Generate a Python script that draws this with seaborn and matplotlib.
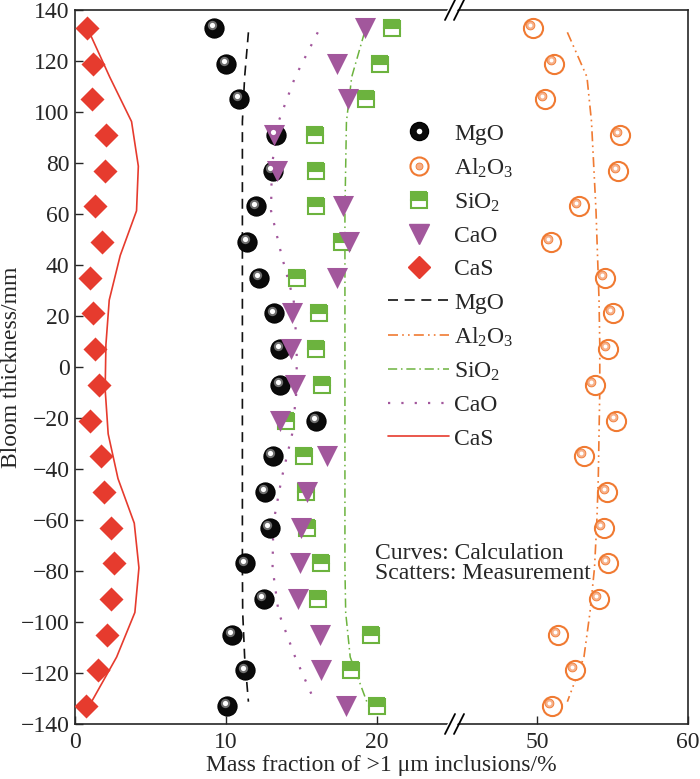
import numpy as np
import pandas as pd
import matplotlib
matplotlib.use("Agg")
import matplotlib.pyplot as plt
import seaborn as sns
from matplotlib.lines import Line2D
from matplotlib import transforms
from matplotlib.patches import Polygon

# ---------------- data ----------------
thickness = [133, 119, 105, 91, 77, 63, 49, 35, 21, 7,
             -7, -21, -35, -49, -63, -77, -91, -105, -119, -133]
mgo_meas = [9.2, 10.0, 10.9, 13.3, 13.1, 12.0, 11.4, 12.2, 13.2, 13.6,
            13.6, 16.0, 13.1, 12.6, 12.9, 11.3, 12.5, 10.4, 11.3, 10.1]
al2o3_meas = [49.7, 51.1, 50.5, 55.5, 55.35, 52.8, 50.9, 54.5, 55.0, 54.7,
              53.8, 55.25, 53.1, 54.6, 54.4, 54.7, 54.1, 51.4, 52.5, 51.0]
sio2_meas = [21.0, 20.2, 19.3, 15.9, 16.0, 16.0, 17.7, 14.7, 16.2, 16.0,
             16.4, 14.0, 15.2, 15.3, 15.4, 16.3, 16.1, 19.6, 18.3, 20.0]
cao_meas = [19.2, 17.4, 18.1, 13.2, 13.4, 17.75, 18.2, 17.35, 14.4, 14.3,
            14.6, 13.6, 16.7, 15.4, 15.0, 14.9, 14.8, 16.25, 16.3, 18.0]
cas_meas = [0.8, 1.2, 1.1, 2.05, 2.0, 1.3, 1.8, 1.0, 1.2, 1.3,
            1.6, 1.0, 1.7, 1.95, 2.4, 2.6, 2.4, 2.15, 1.5, 0.7]

curve_y = [131.25, 113.75, 96.25, 78.75, 61.25, 43.75, 26.25, 8.75,
           -8.75, -26.25, -43.75, -61.25, -78.75, -96.25, -113.75, -131.25]
mgo_calc = [11.5, 11.25, 11.1, 11.1, 11.1, 11.1, 11.1, 11.1,
            11.1, 11.1, 11.1, 11.1, 11.1, 11.12, 11.25, 11.5]
al2o3_calc = [52.0, 53.3, 53.6, 53.75, 53.9, 54.0, 54.1, 54.15,
              54.15, 54.1, 54.05, 53.95, 53.8, 53.5, 53.1, 52.0]
sio2_calc = [19.2, 18.35, 18.0, 17.95, 17.9, 17.9, 17.9, 17.9,
             17.9, 17.9, 17.9, 17.9, 17.9, 17.95, 18.25, 19.35]
cao_calc = [16.1, 14.6, 13.5, 13.05, 13.0, 13.7, 14.5, 14.7,
            14.7, 14.4, 13.7, 13.15, 13.1, 13.5, 14.6, 15.9]
cas_calc = [0.95, 2.3, 3.75, 4.2, 4.08, 3.0, 2.27, 2.05,
            2.0, 2.2, 2.85, 3.93, 4.24, 3.97, 2.76, 1.1]

x_ticks_left = [0, 10, 20]
x_ticks_right = [50, 60]
y_ticks = list(range(-140, 141, 20))

# ---------------- style ----------------
sns.set_style("ticks")
plt.rcParams["font.family"] = ["Liberation Serif", "DejaVu Serif"]
plt.rcParams["mathtext.fontset"] = "custom"
plt.rcParams["mathtext.rm"] = "Liberation Serif"
plt.rcParams["mathtext.it"] = "Liberation Serif:italic"
plt.rcParams["axes.linewidth"] = 1.2

C_MGO = "#111111"
C_AL = "#F07A32"
C_SI = "#6CB33E"
C_CAO = "#A2579C"
C_CAS = "#E63B2E"

FS = 17

fig = plt.figure(figsize=(7, 7.79), dpi=100)
W, H = 700.0, 779.0
x0, xb, x1 = 75.0, 458.0, 688.0
ytop, ybot = 10.0, 724.0
ax1 = fig.add_axes([x0 / W, 1 - ybot / H, (xb - x0) / W, (ybot - ytop) / H])
ax2 = fig.add_axes([xb / W, 1 - ybot / H, (x1 - xb) / W, (ybot - ytop) / H], sharey=ax1)

scale = 15.08
ax1.set_xlim(0, (xb - x0) / scale)
ax2.set_xlim(60 - (x1 - xb) / scale, 60)
ax1.set_ylim(-140, 140)

meas = pd.DataFrame({"y": thickness, "MgO": mgo_meas, "Al2O3": al2o3_meas,
                     "SiO2": sio2_meas, "CaO": cao_meas, "CaS": cas_meas})
calc = pd.DataFrame({"y": curve_y, "MgO": mgo_calc, "Al2O3": al2o3_calc,
                     "SiO2": sio2_calc, "CaO": cao_calc, "CaS": cas_calc})

# ---------------- curves ----------------
line_specs = {
    "MgO": dict(color=C_MGO, dashes=(6, 4), lw=1.2),
    "SiO2": dict(color=C_SI, dashes=(6, 2.5, 1, 2.5), lw=1.1),
    "CaO": dict(color=C_CAO, dashes=(1, 5), lw=1.6),
    "CaS": dict(color=C_CAS, dashes=None, lw=1.2),
}
for name, sp in line_specs.items():
    sns.lineplot(data=calc, x=name, y="y", sort=False, estimator=None, ax=ax1,
                 color=sp["color"], lw=sp["lw"])
    if sp["dashes"] is not None:
        ax1.lines[-1].set_dashes(sp["dashes"])
sns.lineplot(data=calc, x="Al2O3", y="y", sort=False, estimator=None, ax=ax2,
             color=C_AL, lw=1.2)
ax2.lines[-1].set_dashes((6, 2.5, 1, 2.5, 1, 2.5))

# ---------------- scatters ----------------
sns.scatterplot(data=meas, x="CaS", y="y", ax=ax1, marker="D", s=150,
                color=C_CAS, edgecolor=C_CAS, linewidth=0, zorder=5)
sns.scatterplot(data=meas, x="MgO", y="y", ax=ax1, marker="o", s=190,
                color="#0a0a0a", edgecolor="#000000", linewidth=0.8, zorder=5)
hl = transforms.offset_copy(ax1.transData, fig=fig, x=-1.6, y=2.0, units="points")
ax1.scatter(meas["MgO"], meas["y"], s=45, color="#6f6f6f", linewidth=0, transform=hl, zorder=6)
ax1.scatter(meas["MgO"], meas["y"], s=14, color="white", linewidth=0, transform=hl, zorder=7)
ax1.plot(meas["SiO2"], meas["y"], ls="none", marker="s", ms=11, mfc=C_SI,
         mfcalt="white", fillstyle="top", mec=C_SI, mew=1.5, zorder=5)
sns.scatterplot(data=meas, x="CaO", y="y", ax=ax1, marker="v", s=230,
                color=C_CAO, edgecolor=C_CAO, linewidth=0, zorder=6)

sns.scatterplot(data=meas, x="Al2O3", y="y", ax=ax2, marker="o", s=190,
                facecolor="white", edgecolor=C_AL, linewidth=1.5, zorder=5)
hl2 = transforms.offset_copy(ax2.transData, fig=fig, x=-2.2, y=2.2, units="points")
ax2.scatter(meas["Al2O3"], meas["y"], s=40, color="#F6B08A", edgecolor=C_AL,
            linewidth=0.6, transform=hl2, zorder=6)
ax2.scatter(meas["Al2O3"], meas["y"], s=8, color="white", linewidth=0, transform=hl2, zorder=7)

# ---------------- axes styling ----------------
for ax in (ax1, ax2):
    ax.set_xlabel("")
    ax.set_ylabel("")
    ax.spines["top"].set_visible(True)
    ax.tick_params(axis="both", direction="in", length=6, width=1.0,
                   labelsize=FS, pad=6, top=False, right=False)
ax1.spines["right"].set_visible(False)
ax2.spines["left"].set_visible(False)
ax2.spines["right"].set_visible(True)
ax1.set_xticks(x_ticks_left)
ax2.set_xticks(x_ticks_right)
ax1.set_yticks(y_ticks)
ax1.set_yticklabels([str(v).replace("-", "\u2212") for v in y_ticks])
ax2.tick_params(axis="y", left=False, labelleft=False)
ax1.tick_params(axis="y", pad=4)

# axis break marks
def fig_xy(px, py):
    return (px / W, 1 - py / H)

for yc in (ybot, ytop):
    gap = Polygon([fig_xy(450.5, yc - 5), fig_xy(460.5, yc - 5),
                   fig_xy(454.5, yc + 5), fig_xy(444.5, yc + 5)],
                  closed=True, transform=fig.transFigure, facecolor="white",
                  edgecolor="none", zorder=20)
    fig.add_artist(gap)
    for xc in (450.0, 459.0):
        fig.add_artist(Line2D([(xc - 5) / W, (xc + 5) / W],
                              [1 - (yc + 10) / H, 1 - (yc - 10) / H],
                              transform=fig.transFigure, color="black",
                              lw=1.3, zorder=21))

# labels
fig.text(381.5 / W, 1 - 766 / H, "Mass fraction of >1 \u03bcm inclusions/%",
         ha="center", va="center", fontsize=FS)
fig.text(12 / W, 1 - 367 / H, "Bloom thickness/mm", rotation=90,
         ha="center", va="center", fontsize=FS)
fig.text(375 / W, 1 - 543 / H, "Curves: Calculation\nScatters: Measurement",
         ha="left", va="top", fontsize=FS, linespacing=0.95)

# legend
handles = [
    (Line2D([], [], ls="none", marker="o", ms=13, mfc="#0a0a0a", mec="black"),
     Line2D([], [], ls="none", marker="o", ms=4, mfc="white", mec="none")),
    (Line2D([], [], ls="none", marker="o", ms=13, mfc="white", mec=C_AL, mew=1.5),
     Line2D([], [], ls="none", marker="o", ms=5, mfc="#F6B08A", mec=C_AL, mew=0.6)),
    Line2D([], [], ls="none", marker="s", ms=11, mfc=C_SI, mfcalt="white",
           fillstyle="top", mec=C_SI, mew=1.5),
    Line2D([], [], ls="none", marker="v", ms=14, mfc=C_CAO, mec=C_CAO),
    Line2D([], [], ls="none", marker="D", ms=11, mfc=C_CAS, mec=C_CAS),
    Line2D([], [], color=C_MGO, lw=1.2, dashes=(6, 4)),
    Line2D([], [], color=C_AL, lw=1.2, dashes=(6, 2.5, 1, 2.5, 1, 2.5)),
    Line2D([], [], color=C_SI, lw=1.1, dashes=(6, 2.5, 1, 2.5)),
    Line2D([], [], color=C_CAO, lw=1.6, dashes=(1, 5)),
    Line2D([], [], color=C_CAS, lw=1.2),
]
labels = ["MgO", "Al$_2$O$_3$", "SiO$_2$", "CaO", "CaS",
          "MgO", "Al$_2$O$_3$", "SiO$_2$", "CaO", "CaS"]
fig.legend(handles, labels, loc="upper left", bbox_to_anchor=(388 / W, 1 - 123 / H),
           frameon=False, fontsize=FS, handlelength=2.6, handletextpad=0.2,
           labelspacing=0.5, borderpad=0, borderaxespad=0)

fig.savefig("out.png", dpi=100)
